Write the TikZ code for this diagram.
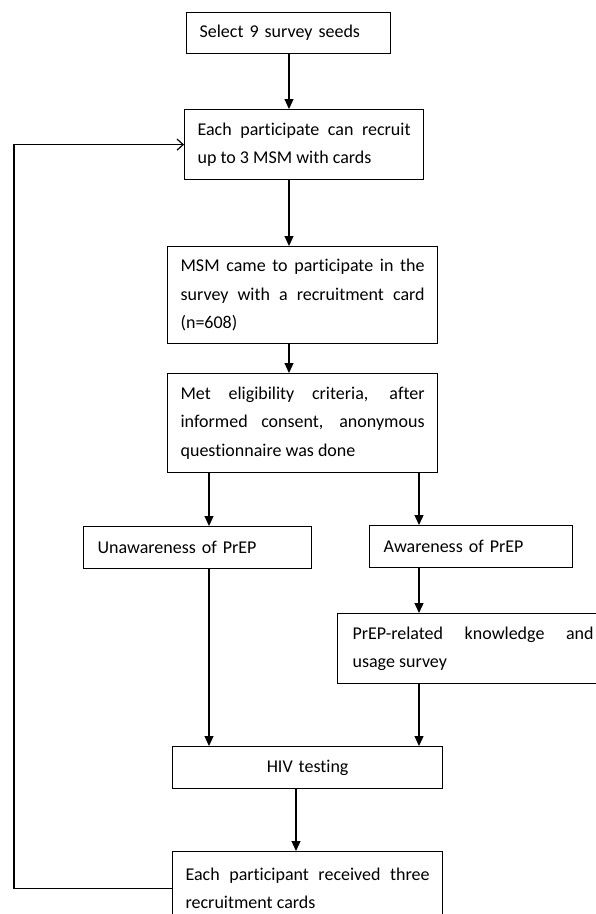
\documentclass[tikz,border=0pt]{standalone}
\usepackage{fontspec}
\setmainfont{Carlito}[Ligatures=NoCommon]
\usetikzlibrary{arrows.meta}
\newcommand{\flowfont}{\fontsize{18}{28.5}\selectfont}
\tikzset{
  box/.style={draw, line width=1.2pt, anchor=north west, inner xsep=13pt, inner ysep=0pt,
    align=justify, font=\flowfont},
  arr/.style={line width=1.2pt, -{Triangle[length=10pt,width=9pt]}},
  backarr/.style={line width=1.2pt, -{Straight Barb[length=6pt,width=11pt]}}
}
\begin{document}
\begin{tikzpicture}[x=1pt,y=-1pt]
        \useasboundingbox (0,0) rectangle (596,914);
        \clip (0,0) rectangle (596,914);

        \node[box, align=left, text width=178, minimum height=41] (seeds) at (186,12) {Select 9 survey seeds};
        \node[box, text width=213, minimum height=70] (recruit) at (184,109) {Each participate can recruit\linebreak up to 3 MSM with cards};
        \node[box, text width=244, minimum height=97] (came) at (167,246) {MSM came to participate in the\linebreak survey with a recruitment card\linebreak (n=608)};
        \node[box, text width=244, minimum height=99] (eligible) at (167,373) {Met eligibility criteria, after\linebreak informed consent, anonymous\linebreak questionnaire was done};
        \node[box, align=left, inner xsep=14pt, text width=200, minimum height=42] (unaware) at (83,526) {Unawareness of PrEP};
        \node[box, align=left, inner xsep=14pt, text width=175, minimum height=42] (aware) at (369,525) {Awareness of PrEP};
        \node[box, inner xsep=15pt, text width=241, minimum height=70] (knowledge) at (337,613) {PrEP-related knowledge and\linebreak usage survey};
        \node[box, align=center, text width=244, minimum height=42] (hiv) at (172,746) {HIV testing};
        \node[box, text width=244, minimum height=73] (cards) at (172,851) {Each participant received three\linebreak recruitment cards};

        \coordinate (colM) at (289,0);
        \coordinate (colL) at (209,0);
        \coordinate (colR) at (419,0);
        \coordinate (colH) at (296,0);
        \coordinate (back) at (14,0);

        \draw[arr] (seeds.south -| colM) -- (recruit.north -| colM);
        \draw[arr] (recruit.south -| colM) -- (came.north -| colM);
        \draw[arr] (came.south -| colM) -- (eligible.north -| colM);
        \draw[arr] (eligible.south -| colL) -- (unaware.north -| colL);
        \draw[arr] (eligible.south -| colR) -- (aware.north -| colR);
        \draw[arr] (aware.south -| colR) -- (knowledge.north -| colR);
        \draw[arr] (unaware.south -| colL) -- (hiv.north -| colL);
        \draw[arr] (knowledge.south -| colR) -- (hiv.north -| colR);
        \draw[arr] (hiv.south -| colH) -- (cards.north -| colH);
        \draw[backarr] (cards.west) -- (cards.west -| back) |- (recruit.west);
    \end{tikzpicture}
\end{document}
